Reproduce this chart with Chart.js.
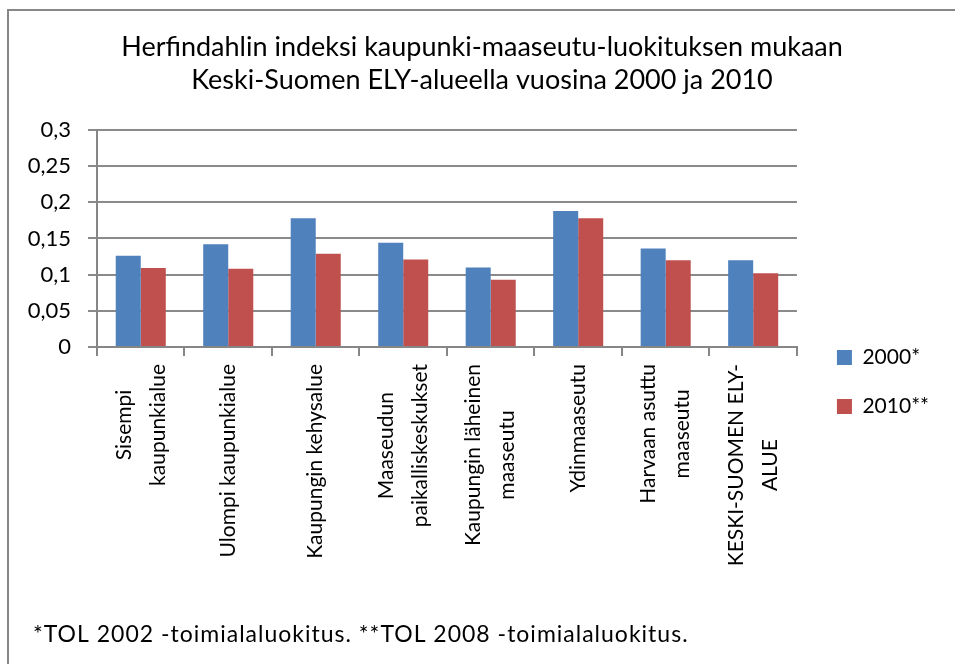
<!DOCTYPE html>
<html>
<head>
<meta charset="utf-8">
<script src="https://cdn.jsdelivr.net/npm/chart.js@4"></script>
<style>
  body { margin: 0; background: #fff; overflow: hidden; }
  #wrap { position: relative; width: 955px; height: 664px; }
  #frame { position: absolute; left: 7px; top: 9px; width: 1000px; height: 700px;
           border: 2px solid #878787; pointer-events: none; }
</style>
</head>
<body>
<div id="wrap">
  <canvas id="chart"></canvas>
  <div id="frame"></div>
</div>
<script>
// Luokat (rivit = rivitetyt nimiöt)
const categories = [
  ['Sisempi', 'kaupunkialue'],
  ['Ulompi kaupunkialue'],
  ['Kaupungin kehysalue'],
  ['Maaseudun', 'paikalliskeskukset'],
  ['Kaupungin läheinen', 'maaseutu'],
  ['Ydinmaaseutu'],
  ['Harvaan asuttu', 'maaseutu'],
  ['KESKI-SUOMEN ELY-', 'ALUE']
];
const values2000 = [0.126, 0.142, 0.178, 0.144, 0.110, 0.188, 0.136, 0.120];
const values2010 = [0.109, 0.108, 0.129, 0.121, 0.093, 0.178, 0.120, 0.102];
const yTickLabels = ['0', '0,05', '0,1', '0,15', '0,2', '0,25', '0,3'];
const titleLines = [
  'Herfindahlin indeksi kaupunki-maaseutu-luokituksen mukaan',
  'Keski-Suomen ELY-alueella vuosina 2000 ja 2010'
];
const footnote = '*TOL 2002 -toimialaluokitus. **TOL 2008 -toimialaluokitus.';

const FONT = 'Lato';

// Pystysuorat luokkanimiöt, rivit keskitetty kuten Excelissä
const verticalLabels = {
  id: 'verticalLabels',
  afterDraw(chart) {
    const ctx = chart.ctx;
    const xs = chart.scales.x;
    const lh = 34;
    ctx.save();
    ctx.fillStyle = '#000';
    ctx.font = '21px ' + FONT;
    ctx.textAlign = 'right';
    ctx.textBaseline = 'middle';
    categories.forEach((lines, i) => {
      const x = xs.getPixelForValue(i);
      const maxW = Math.max(...lines.map(l => ctx.measureText(l).width));
      ctx.save();
      ctx.translate(x, xs.top + 17);
      ctx.rotate(-Math.PI / 2);
      lines.forEach((line, j) => {
        const off = (j - (lines.length - 1) / 2) * lh;
        const w = ctx.measureText(line).width;
        ctx.fillText(line, -(maxW - w) / 2, off);
      });
      ctx.restore();
    });
    ctx.restore();
  }
};

// Alaviite
const footnotePlugin = {
  id: 'footnotePlugin',
  afterDraw(chart) {
    const ctx = chart.ctx;
    ctx.save();
    ctx.fillStyle = '#000';
    ctx.font = '23px ' + FONT;
    ctx.letterSpacing = '1px';
    ctx.textAlign = 'left';
    ctx.textBaseline = 'middle';
    ctx.fillText(footnote, 33, 635);
    ctx.restore();
  }
};

const ctx = document.getElementById('chart').getContext('2d');
new Chart(ctx, {
  type: 'bar',
  data: {
    labels: categories,
    datasets: [
      {
        label: '2000*',
        data: values2000,
        backgroundColor: '#4F81BD',
        borderWidth: 0
      },
      {
        label: '2010**',
        data: values2010,
        backgroundColor: '#C0504D',
        borderWidth: 0
      }
    ]
  },
  options: {
    responsive: true,
    maintainAspectRatio: false,
    animation: false,
    datasets: {
      bar: { categoryPercentage: 0.572, barPercentage: 1.0 }
    },
    layout: { padding: { left: 25, right: 16, top: 0, bottom: 8 } },
    plugins: {
      title: {
        display: true,
        text: titleLines,
        color: '#000',
        font: { family: FONT, size: 27, weight: 'normal', lineHeight: 1.22 },
        padding: { top: 31, bottom: 33 }
      },
      legend: {
        position: 'right',
        align: 'center',
        title: {
          display: true,
          text: ' ',
          font: { family: FONT, size: 20, lineHeight: 1.2 },
          padding: { top: 84, bottom: 0 }
        },
        labels: {
          color: '#000',
          font: { family: FONT, size: 21 },
          boxWidth: 15,
          boxHeight: 15,
          padding: 28
        }
      },
      tooltip: { enabled: false }
    },
    scales: {
      x: {
        grid: {
          display: true,
          drawOnChartArea: false,
          drawTicks: true,
          tickLength: 9,
          color: '#868686',
          lineWidth: 2
        },
        border: { display: true, color: '#868686', width: 2 },
        ticks: { display: false },
        afterFit(scale) { scale.height = 664 - 8 - 347; }
      },
      y: {
        min: 0,
        max: 0.3,
        ticks: {
          stepSize: 0.05,
          color: '#000',
          font: { family: FONT, size: 22 },
          padding: 17,
          callback: (v, i) => yTickLabels[i]
        },
        grid: {
          color: '#8a8a8a',
          lineWidth: 2,
          tickLength: 9
        },
        border: { display: true, color: '#868686', width: 2 },
        afterFit(scale) { scale.width = 72; }
      },
      gap: {
        position: 'right',
        display: true,
        grid: { display: false },
        border: { display: false },
        ticks: { display: false },
        afterFit(scale) { scale.width = 12; }
      }
    }
  },
  plugins: [verticalLabels, footnotePlugin]
});
</script>
</body>
</html>
